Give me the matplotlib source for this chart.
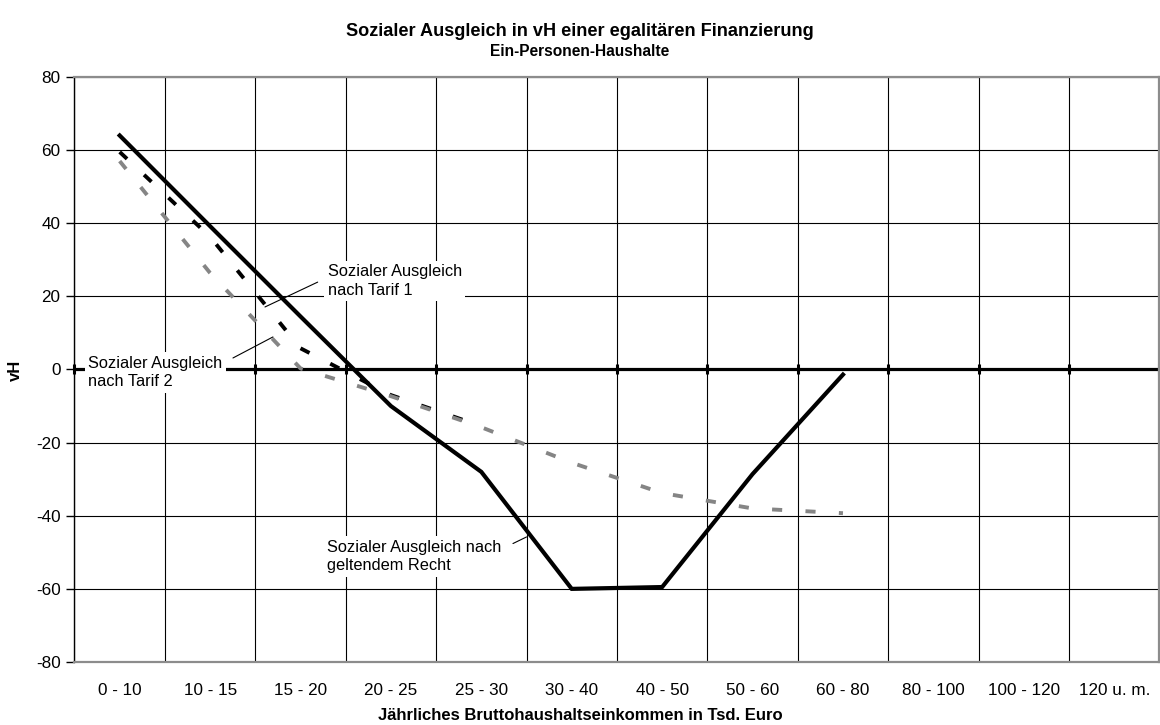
import numpy as np
import matplotlib
matplotlib.use('Agg')
import matplotlib.pyplot as plt

plt.rcParams['font.family'] = ['Liberation Sans', 'DejaVu Sans']
plt.rcParams['axes.unicode_minus'] = False

##########################
# data
categories = ['0 - 10', '10 - 15', '15 - 20', '20 - 25', '25 - 30', '30 - 40',
              '40 - 50', '50 - 60', '60 - 80', '80 - 100', '100 - 120', '120 u. m.']
recht = [64, 39.2, 14.5, -10, -28, -60, -59.5, -28.6, -1.4]
tarif1 = [59.5, 36.3, 5.8, -7, -15.5]
tarif2 = [57, 26.4, 0.3, -7.3, -15.8, -25.5, -33.8, -38, -39.3]
yticks = [-80, -60, -40, -20, 0, 20, 40, 60, 80]
##########################

fig = plt.figure(figsize=(11.6, 7.25), dpi=100)
ax = fig.add_axes([0.0642, 0.0869, 0.9353, 0.8069])

x = np.arange(len(categories))
bounds = np.arange(len(categories) + 1) - 0.5

ax.set_xlim(-0.5, len(categories) - 0.5)
ax.set_ylim(-80, 80)
ax.set_yticks(yticks)
ax.set_xticks(x)
ax.set_xticklabels(categories)
ax.set_xticks(bounds, minor=True)
ax.tick_params(axis='x', which='both', length=0, labelsize=12.3, pad=15)
ax.tick_params(axis='y', length=6, width=1, labelsize=12.3, pad=4)

ax.grid(True, axis='y', color='black', lw=0.8, zorder=1)
ax.grid(True, axis='x', which='minor', color='black', lw=0.8, zorder=1)
ax.grid(False, axis='x', which='major')

for side in ['top', 'right', 'bottom']:
    ax.spines[side].set_color('#8c8c8c')
    ax.spines[side].set_linewidth(1.6)
ax.spines['left'].set_color('black')
ax.spines['left'].set_linewidth(1.0)

# zero axis with its tick marks
ax.axhline(0, color='black', lw=2.3, zorder=2.5)
ax.plot(bounds, np.zeros(len(bounds)), ls='none', marker='|', ms=7, mew=2.2,
        color='black', zorder=2.5, clip_on=False)

ax.plot(x[:len(tarif1)], tarif1, color='black', lw=2.8,
        ls=(0, (2.6, 6.0)), zorder=3)
ax.plot(x[:len(tarif2)], tarif2, color='#858585', lw=2.8,
        ls=(0, (2.6, 6.0)), zorder=4)
ax.plot(x[:len(recht)], recht, color='black', lw=3.0, zorder=5,
        solid_joinstyle='miter')

box = dict(facecolor='white', edgecolor='none', pad=2.5)
leader = dict(arrowstyle='-', color='black', lw=0.8, shrinkA=0, shrinkB=0)

ax.text(2.30, 24.2, 'Sozialer Ausgleich\nnach Tarif 1', fontsize=11.8,
        ha='left', va='center', linespacing=1.3, bbox=box, zorder=6)
ax.annotate('', xy=(1.607, 17.1), xytext=(2.19, 23.9),
            arrowprops=leader, zorder=6)

ax.text(-0.35, -0.8, 'Sozialer Ausgleich\nnach Tarif 2', fontsize=11.8,
        ha='left', va='center', linespacing=1.3, bbox=box, zorder=6)
ax.annotate('', xy=(1.695, 8.9), xytext=(1.253, 3.15),
            arrowprops=leader, zorder=6)

ax.text(2.29, -51.2, 'Sozialer Ausgleich nach\ngeltendem Recht', fontsize=11.8,
        ha='left', va='center', linespacing=1.3, bbox=box, zorder=6)
ax.annotate('', xy=(4.50, -45.8), xytext=(4.35, -47.6),
            arrowprops=leader, zorder=6)

fig.text(0.5, 1 - 715 / 725, 'Jährliches Bruttohaushaltseinkommen in Tsd. Euro',
         ha='center', va='center', fontsize=12, fontweight='bold',
         transform=fig.transFigure)
fig.text(15 / 1160, 1 - 370 / 725, 'vH', rotation=90, ha='center', va='center',
         fontsize=12, fontweight='bold')

fig.text(0.5, 1 - 32 / 725, 'Sozialer Ausgleich in vH einer egalitären Finanzierung',
         ha='center', va='center', fontsize=13.1, fontweight='bold')
fig.text(0.5, 1 - 52 / 725, 'Ein-Personen-Haushalte',
         ha='center', va='center', fontsize=11.2, fontweight='bold')

fig.savefig('out.png', dpi=100)
